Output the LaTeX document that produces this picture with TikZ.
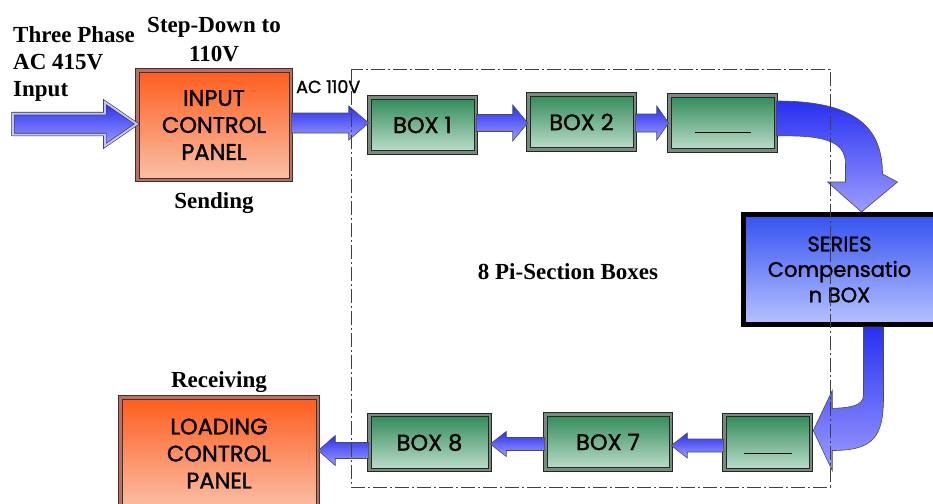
\documentclass[tikz,border=0pt]{standalone}
\usepackage{fontspec}
\setmainfont{Liberation Serif}
\newfontfamily\boxfont[FakeBold=1.4]{Poppins}
\usetikzlibrary{positioning,calc}

\definecolor{panelTop}{RGB}{255,92,28}
\definecolor{panelBot}{RGB}{250,192,168}
\definecolor{boxTop}{RGB}{48,138,88}
\definecolor{boxBot}{RGB}{190,222,204}
\definecolor{serTop}{RGB}{52,82,240}
\definecolor{serBot}{RGB}{184,194,255}
\definecolor{arrTop}{RGB}{40,48,240}
\definecolor{arrBot}{RGB}{156,156,255}

% fat arrow: [opts]{from}{to}{shaft half}{head half}{head length}
\newcommand{\blockarrow}[6][]{%
  \path[fatarrow,#1] let \p1=(#2), \p2=(#3) in
    ({\x1},{\y1-#4}) -- ({\x2-(#6)},{\y1-#4}) -- ({\x2-(#6)},{\y1-#5})
    -- ({\x2},{\y1}) -- ({\x2-(#6)},{\y1+#5}) -- ({\x2-(#6)},{\y1+#4})
    -- ({\x1},{\y1+#4}) -- cycle;}

\begin{document}
\begin{tikzpicture}[x=1pt,y=-1pt,
    panel/.style={
      rectangle,
      draw=black!80,
      line width=1pt,
      double={rgb,255:red,190;green,110;blue,95},
      double distance=2.5pt,
      top color=panelTop,
      bottom color=panelBot,
      align=center,
      font=\boxfont\fontsize{22.5}{27}\selectfont},
    greenbox/.style={
      rectangle,
      draw=black!85,
      line width=1pt,
      double={rgb,255:red,120;green,138;blue,126},
      double distance=2.5pt,
      top color=boxTop,
      bottom color=boxBot,
      minimum height=55pt,
      font=\boxfont\fontsize{22.5}{27}\selectfont},
    serbox/.style={
      rectangle,
      draw=black,
      line width=5pt,
      top color=serTop,
      bottom color=serBot,
      minimum width=192pt,
      minimum height=110pt,
      align=center,
      font=\boxfont\fontsize{21}{25.5}\selectfont},
    fatarrow/.style={
      draw=black!70,
      line width=0.6pt,
      top color=arrTop,
      bottom color=arrBot},
    caption/.style={
      inner sep=0pt,
      align=center,
      font=\bfseries\fontsize{23}{29}\selectfont},
    acnote/.style={
      inner sep=0pt,
      font=\boxfont\fontsize{17.5}{20}\selectfont}
  ]
  \useasboundingbox (0,0) rectangle (933,503);

  % sending side
  \node[panel, minimum width=153.5pt, minimum height=109.5pt] (inpanel)
    at (214,125) {INPUT\\CONTROL\\PANEL};
  \node[caption] (stepdown) [above=8pt of inpanel] {Step-Down to\\110V};
  \node[caption] (sending) [below=12pt of inpanel] {Sending};
  \node[caption, align=left, anchor=north west, font=\bfseries\fontsize{23}{27}\selectfont]
    (supply) at (13,26) {Three Phase\\AC 415V\\Input};
  \coordinate (src) at (13,124);
  \node[acnote, anchor=base west] (acout) at (296,93) {AC 110V};

  % pi-section boxes, top row
  \node[greenbox, minimum width=106.5pt] (box1) at (422.5,125) {BOX 1};
  \node[greenbox, minimum width=106.5pt] (box2) at (581.5,122) {BOX 2};
  \node[greenbox, minimum width=106.5pt] (box3) at (722.5,123)
    {\vphantom{B}\rule[-4pt]{56pt}{1.2pt}};

  % series compensation
  \node[serbox] (series) at (839.5,269.5) {SERIES\\Compensatio\\n BOX};

  % pi-section boxes, bottom row
  \node[greenbox, minimum width=86.5pt] (box6) at (767.5,442.5)
    {\vphantom{B}\rule[-7pt]{48pt}{1.2pt}};
  \node[greenbox, minimum width=125.5pt] (box7) at (608,442) {BOX 7};
  \node[greenbox, minimum width=120.5pt] (box8) at (429.5,442.5) {BOX 8};

  % receiving side
  \node[panel, minimum width=197.5pt, minimum height=112.5pt] (outpanel)
    at (219,453.5) {LOADING\\CONTROL\\PANEL};
  \node[caption] (receiving) [above=4pt of outpanel] {Receiving};

  \node[caption] (pilabel) at (568,272) {8 Pi-Section Boxes};

  % straight arrows
  \blockarrow[double=arrBot!60, double distance=2pt, draw=black!80]
    {src}{inpanel.west}{10.5pt}{22pt}{32pt}
  \blockarrow{$(inpanel.east)+(0,-2)$}{box1.west}{10pt}{17pt}{20pt}
  \blockarrow{$(box1.east)+(0,-2)$}{box2.west}{8.5pt}{18pt}{15pt}
  \blockarrow{$(box2.east)+(0,1)$}{box3.west}{9pt}{17pt}{12pt}
  \blockarrow{$(box6.west)+(0,3)$}{box7.east}{6.5pt}{12.5pt}{-16pt}
  \blockarrow{$(box7.west)+(0,2)$}{box8.east}{6.5pt}{12.5pt}{-16pt}
  \blockarrow{$(box8.west)+(0,8)$}{outpanel.east}{8pt}{15pt}{-17pt}

  % curved arrow into the series box
  \path[fatarrow]
    ($(box3.east)+(0,-22)$)
      .. controls ($(box3.east)+(72,-22)$) and ($(series.north)+(43,-90)$)
      .. ($(series.north)+(43,-38)$)
    -- ($(series.north)+(58,-30)$) -- ($(series.north)+(22,0)$)
    -- ($(series.north)+(-12,-30)$) -- ($(series.north)+(6,-30)$)
    -- ($(series.north)+(6,-48)$)
      .. controls ($(series.north)+(6,-72)$) and ($(series.north)+(-18,-77)$)
      .. ($(box3.east)+(0,13)$)
    -- cycle;

  % curved arrow out of the series box
  \path[fatarrow]
    ($(series.south)+(24,0)$) -- ($(series.south)+(24,68)$)
      .. controls ($(series.south)+(24,80)$) and ($(box6.east)+(36,-35)$)
      .. ($(box6.east)+(21,-34)$)
    -- ($(box6.east)+(21,-52)$) -- ($(box6.east)+(2,-12)$)
    -- ($(box6.east)+(21,28)$) -- ($(box6.east)+(21,8)$)
      .. controls ($(box6.east)+(62,8)$) and ($(series.south)+(44,110)$)
      .. ($(series.south)+(44,70)$)
    -- ($(series.south)+(44,0)$) -- cycle;

  % frame round the pi-section boxes
  \draw[black!75, line width=0.9pt, dash pattern=on 14pt off 3pt on 2pt off 3pt]
    (351,69) rectangle (830,487);
\end{tikzpicture}
\end{document}
